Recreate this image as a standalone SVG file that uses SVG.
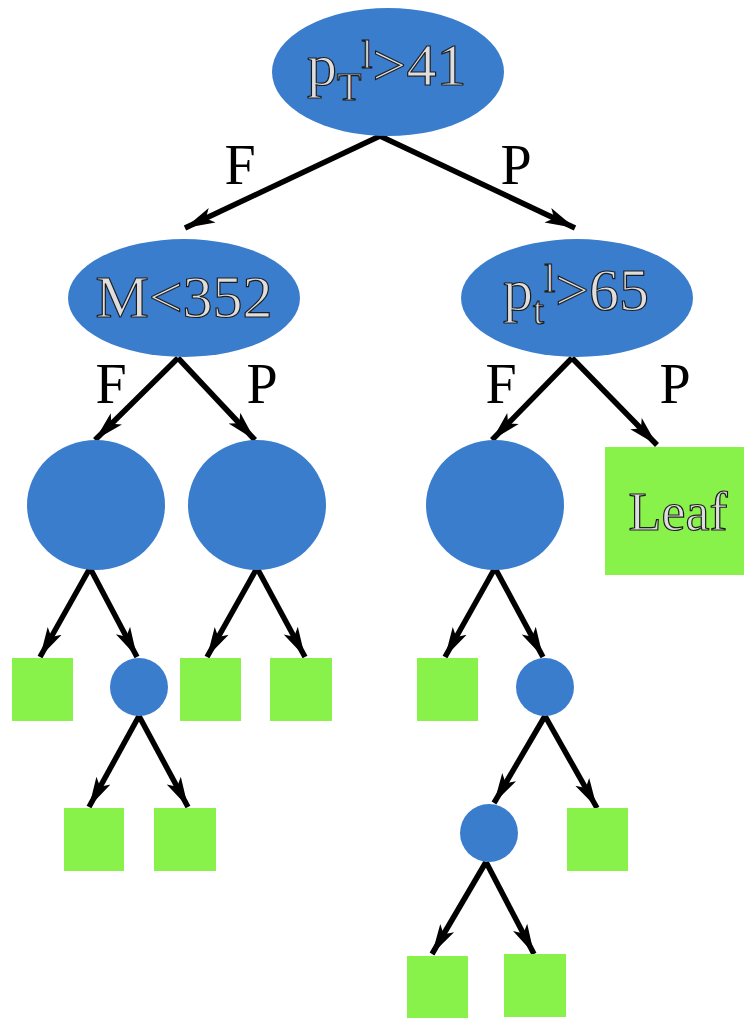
<svg xmlns="http://www.w3.org/2000/svg" width="744" height="1018" viewBox="0 0 744 1018">
<style>
.dec{fill:#3b7dcd}
.leaf{fill:#88f24b}
.lbl{font-family:'Liberation Serif','Times New Roman',Times,serif;fill:#dedede;stroke:#1c1c1c;stroke-width:1.2}
.edge{font-family:'Liberation Serif','Times New Roman',Times,serif;font-size:56px;fill:#000;text-anchor:middle}
.c{stroke:#000;stroke-width:5.5;fill:none;marker-end:url(#ah)}
</style>
<defs>
<marker id="ah" markerUnits="userSpaceOnUse" markerWidth="34" markerHeight="20" refX="30" refY="10" orient="auto">
<path d="M0,2 L30,10 L0,18 L7,10 Z" fill="#000"/>
</marker>
</defs>
<g id="connectors">
<line class="c" x1="380" y1="136" x2="185" y2="228"/>
<line class="c" x1="380" y1="136" x2="575" y2="228"/>
<line class="c" x1="178" y1="358" x2="95" y2="440"/>
<line class="c" x1="178" y1="358" x2="255" y2="440"/>
<line class="c" x1="572" y1="358" x2="492" y2="440"/>
<line class="c" x1="572" y1="358" x2="657" y2="445"/>
<line class="c" x1="90" y1="568" x2="40" y2="657"/>
<line class="c" x1="90" y1="568" x2="137" y2="657"/>
<line class="c" x1="257" y1="568" x2="207" y2="657"/>
<line class="c" x1="257" y1="568" x2="305" y2="657"/>
<line class="c" x1="495" y1="568" x2="445" y2="657"/>
<line class="c" x1="495" y1="568" x2="543" y2="657"/>
<line class="c" x1="139" y1="716" x2="89" y2="807"/>
<line class="c" x1="139" y1="716" x2="188" y2="807"/>
<line class="c" x1="545" y1="716" x2="494" y2="803"/>
<line class="c" x1="545" y1="716" x2="597" y2="808"/>
<line class="c" x1="486" y1="862" x2="432" y2="954"/>
<line class="c" x1="486" y1="862" x2="534" y2="954"/>
<text class="edge" font-family="Liberation Serif, serif" x="240" y="184">F</text>
<text class="edge" font-family="Liberation Serif, serif" x="516" y="184">P</text>
<text class="edge" font-family="Liberation Serif, serif" x="111" y="403">F</text>
<text class="edge" font-family="Liberation Serif, serif" x="262" y="403">P</text>
<text class="edge" font-family="Liberation Serif, serif" x="501" y="403">F</text>
<text class="edge" font-family="Liberation Serif, serif" x="675" y="403">P</text>
</g>
<g id="root">
<ellipse class="dec" cx="388" cy="72" rx="116" ry="64"/>
<text class="lbl" font-family="Liberation Serif, serif" x="307" y="85" font-size="60">p<tspan font-size="40" dy="15">T</tspan><tspan font-size="40" dy="-32">l</tspan><tspan dy="17">&gt;41</tspan></text>
</g>
<g id="n_m352">
<ellipse class="dec" cx="184" cy="298" rx="116" ry="59"/>
<text class="lbl" font-family="Liberation Serif, serif" x="184" y="317" font-size="60" text-anchor="middle">M&lt;352</text>
</g>
<g id="n_pt65">
<ellipse class="dec" cx="577" cy="298" rx="116" ry="59"/>
<text class="lbl" font-family="Liberation Serif, serif" x="503" y="310" font-size="60">p<tspan font-size="40" dy="14">t</tspan><tspan font-size="40" dy="-32">l</tspan><tspan dy="18">&gt;65</tspan></text>
</g>
<g id="c1"><ellipse class="dec" cx="96" cy="505" rx="69" ry="65"/></g>
<g id="c2"><ellipse class="dec" cx="257" cy="505" rx="69" ry="65"/></g>
<g id="c3"><ellipse class="dec" cx="495" cy="505" rx="69" ry="65"/></g>
<g id="leafP">
<rect class="leaf" x="605" y="447" width="139" height="128"/>
<text class="lbl" font-family="Liberation Serif, serif" x="678" y="530" font-size="54" text-anchor="middle">Leaf</text>
</g>
<g id="l1"><rect class="leaf" x="12" y="658" width="61" height="63"/></g>
<g id="s1"><circle class="dec" cx="139" cy="687" r="29"/></g>
<g id="l2"><rect class="leaf" x="180" y="658" width="61" height="63"/></g>
<g id="l3"><rect class="leaf" x="270" y="658" width="62" height="63"/></g>
<g id="l4"><rect class="leaf" x="64" y="808" width="60" height="63"/></g>
<g id="l5"><rect class="leaf" x="154" y="808" width="62" height="63"/></g>
<g id="l6"><rect class="leaf" x="417" y="658" width="61" height="63"/></g>
<g id="s2"><circle class="dec" cx="545" cy="687" r="29"/></g>
<g id="s3"><circle class="dec" cx="489" cy="833" r="29"/></g>
<g id="l7"><rect class="leaf" x="567" y="808" width="61" height="63"/></g>
<g id="l8"><rect class="leaf" x="407" y="956" width="61" height="62"/></g>
<g id="l9"><rect class="leaf" x="504" y="954" width="62" height="63"/></g>
</svg>
